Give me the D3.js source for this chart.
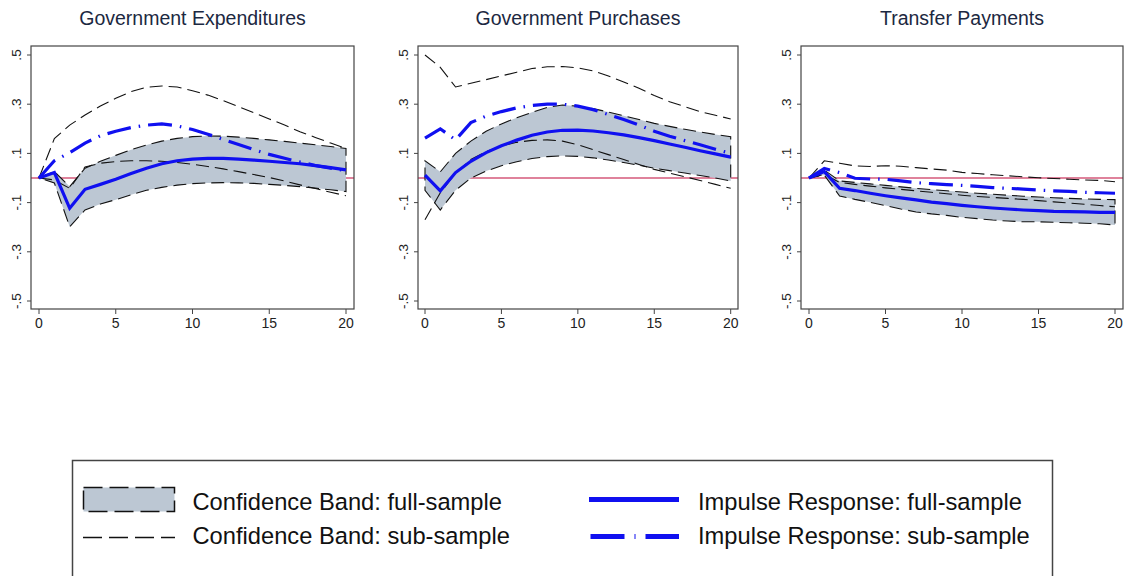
<!DOCTYPE html>
<html>
<head>
<meta charset="utf-8">
<script src="https://cdn.jsdelivr.net/npm/d3@7"></script>
<style>
  html, body { margin: 0; padding: 0; background: #fff; }
  svg { display: block; font-family: "Liberation Sans", Arial, Helvetica, sans-serif; }
</style>
</head>
<body>
<svg id="chart" width="1128" height="576"></svg>
<script>
// Horizons 0..20
const horizons = d3.range(0, 21);

const panelTitles = ["Government Expenditures", "Government Purchases", "Transfer Payments"];
const yTickValues = [-0.5, -0.3, -0.1, 0.1, 0.3, 0.5];
const yTickLabels = ["-.5", "-.3", "-.1", ".1", ".3", ".5"];
const xTickValues = [0, 5, 10, 15, 20];
const xTickLabels = ["0", "5", "10", "15", "20"];

// Government Expenditures
const geIrf    = [0, 0.022, -0.123, -0.046, -0.026, -0.005, 0.018, 0.040, 0.058, 0.070, 0.077, 0.080, 0.080, 0.077, 0.073, 0.068, 0.063, 0.058, 0.050, 0.042, 0.033];
const geLo     = [0, -0.020, -0.198, -0.130, -0.106, -0.088, -0.068, -0.050, -0.038, -0.029, -0.023, -0.020, -0.019, -0.020, -0.022, -0.026, -0.030, -0.035, -0.041, -0.048, -0.055];
const geHi     = [0, 0.026, -0.035, 0.040, 0.068, 0.092, 0.115, 0.134, 0.150, 0.161, 0.168, 0.171, 0.170, 0.166, 0.161, 0.155, 0.149, 0.142, 0.135, 0.128, 0.120];
const geSubIrf = [0, 0.070, 0.103, 0.142, 0.172, 0.190, 0.205, 0.215, 0.220, 0.212, 0.197, 0.178, 0.157, 0.136, 0.115, 0.096, 0.080, 0.065, 0.051, 0.040, 0.030];
const geSubLo  = [0, -0.008, -0.042, 0.045, 0.060, 0.067, 0.070, 0.070, 0.068, 0.063, 0.056, 0.047, 0.037, 0.026, 0.014, 0.002, -0.012, -0.028, -0.043, -0.058, -0.072];
const geSubHi  = [0, 0.160, 0.215, 0.256, 0.293, 0.324, 0.351, 0.369, 0.374, 0.370, 0.355, 0.337, 0.315, 0.290, 0.265, 0.240, 0.215, 0.188, 0.165, 0.142, 0.120];

// Government Purchases
const gpIrf    = [0.012, -0.052, 0.022, 0.068, 0.103, 0.131, 0.154, 0.174, 0.187, 0.194, 0.195, 0.191, 0.184, 0.175, 0.164, 0.152, 0.138, 0.125, 0.111, 0.098, 0.085];
const gpLo     = [-0.050, -0.130, -0.050, 0.000, 0.028, 0.050, 0.066, 0.079, 0.087, 0.090, 0.088, 0.082, 0.073, 0.063, 0.052, 0.040, 0.030, 0.020, 0.010, 0.000, -0.012];
const gpHi     = [0.070, 0.025, 0.100, 0.150, 0.190, 0.220, 0.245, 0.267, 0.287, 0.297, 0.292, 0.282, 0.268, 0.253, 0.238, 0.222, 0.210, 0.198, 0.187, 0.177, 0.168];
const gpSubIrf = [0.162, 0.200, 0.155, 0.225, 0.252, 0.270, 0.285, 0.295, 0.300, 0.300, 0.292, 0.278, 0.258, 0.238, 0.215, 0.190, 0.170, 0.152, 0.135, 0.117, 0.100];
const gpSubLo  = [-0.170, -0.060, 0.020, 0.075, 0.108, 0.130, 0.145, 0.153, 0.155, 0.150, 0.135, 0.115, 0.095, 0.075, 0.055, 0.035, 0.020, 0.005, -0.010, -0.026, -0.042];
const gpSubHi  = [0.500, 0.450, 0.370, 0.385, 0.400, 0.415, 0.430, 0.445, 0.452, 0.453, 0.448, 0.435, 0.415, 0.390, 0.365, 0.335, 0.310, 0.290, 0.270, 0.255, 0.240];

// Transfer Payments
const tpIrf    = [0, 0.026, -0.042, -0.051, -0.062, -0.072, -0.081, -0.089, -0.098, -0.104, -0.111, -0.117, -0.122, -0.126, -0.130, -0.133, -0.136, -0.137, -0.138, -0.140, -0.140];
const tpLo     = [0, 0.012, -0.073, -0.087, -0.099, -0.112, -0.126, -0.138, -0.146, -0.152, -0.160, -0.165, -0.171, -0.175, -0.178, -0.178, -0.180, -0.182, -0.184, -0.186, -0.191];
const tpHi     = [0, 0.032, -0.012, -0.018, -0.024, -0.030, -0.036, -0.042, -0.047, -0.052, -0.057, -0.062, -0.066, -0.070, -0.074, -0.077, -0.080, -0.083, -0.085, -0.087, -0.088];
const tpSubIrf = [0, 0.039, 0.022, -0.001, -0.004, -0.005, -0.012, -0.019, -0.023, -0.027, -0.030, -0.034, -0.039, -0.042, -0.045, -0.049, -0.052, -0.054, -0.058, -0.060, -0.062];
const tpSubLo  = [0, 0.015, -0.018, -0.026, -0.033, -0.040, -0.046, -0.052, -0.058, -0.064, -0.070, -0.075, -0.079, -0.083, -0.087, -0.092, -0.097, -0.102, -0.107, -0.112, -0.117];
const tpSubHi  = [0, 0.070, 0.060, 0.049, 0.047, 0.050, 0.048, 0.042, 0.037, 0.032, 0.023, 0.018, 0.013, 0.009, 0.005, 0.001, -0.002, -0.005, -0.008, -0.010, -0.015];

const legendLabels = [
  "Confidence Band: full-sample",
  "Confidence Band: sub-sample",
  "Impulse Response: full-sample",
  "Impulse Response: sub-sample"
];

const panelSeries = [
  { irf: geIrf, lo: geLo, hi: geHi, subIrf: geSubIrf, subLo: geSubLo, subHi: geSubHi },
  { irf: gpIrf, lo: gpLo, hi: gpHi, subIrf: gpSubIrf, subLo: gpSubLo, subHi: gpSubHi },
  { irf: tpIrf, lo: tpLo, hi: tpHi, subIrf: tpSubIrf, subLo: tpSubLo, subHi: tpSubHi }
];

// Panel geometry: frame box and the pixel range of horizons 0..20
const panelBoxes = [
  { left: 31,  right: 354,  x0: 39,  x1: 346 },
  { left: 418, right: 738,  x0: 425, x1: 730.7 },
  { left: 801, right: 1123, x0: 809, x1: 1115 }
];
const frameTop = 46, frameBottom = 309;
const yTopPx = 55, yBottomPx = 301;

const BLUE = "#1010f0";
const BAND_FILL = "#bcc7d3";
const ZERO_RED = "#d4587a";
const TITLE_COLOR = "#1c2841";
const DASH = "13,6";

const svg = d3.select("#chart");

panelSeries.forEach((s, i) => {
  const box = panelBoxes[i];
  const x = d3.scaleLinear().domain([0, 20]).range([box.x0, box.x1]);
  const y = d3.scaleLinear().domain([-0.5, 0.5]).range([yBottomPx, yTopPx]);
  const g = svg.append("g");

  // title
  g.append("text")
    .attr("x", (box.left + box.right) / 2)
    .attr("y", 25)
    .attr("text-anchor", "middle")
    .attr("font-size", 19.5)
    .attr("fill", TITLE_COLOR)
    .text(panelTitles[i]);

  // zero reference line
  g.append("line")
    .attr("x1", box.left).attr("x2", box.right)
    .attr("y1", y(0)).attr("y2", y(0))
    .attr("stroke", ZERO_RED).attr("stroke-width", 1.5);

  // full-sample confidence band
  const area = d3.area()
    .x((d, k) => x(horizons[k]))
    .y0((d, k) => y(s.lo[k]))
    .y1((d, k) => y(s.hi[k]));
  g.append("path")
    .attr("d", area(horizons))
    .attr("fill", BAND_FILL)
    .attr("stroke", "#111")
    .attr("stroke-width", 1.1)
    .attr("stroke-dasharray", DASH);

  const line = vals => d3.line()
    .x((d, k) => x(horizons[k]))
    .y((d, k) => y(vals[k]))(horizons);

  // sub-sample confidence band
  [s.subHi, s.subLo].forEach(vals => {
    g.append("path")
      .attr("d", line(vals))
      .attr("fill", "none")
      .attr("stroke", "#111")
      .attr("stroke-width", 1.1)
      .attr("stroke-dasharray", DASH);
  });

  // sub-sample impulse response
  g.append("path")
    .attr("d", line(s.subIrf))
    .attr("fill", "none")
    .attr("stroke", BLUE)
    .attr("stroke-width", 3.2)
    .attr("stroke-dasharray", "24,8,1.5,8");

  // full-sample impulse response
  g.append("path")
    .attr("d", line(s.irf))
    .attr("fill", "none")
    .attr("stroke", BLUE)
    .attr("stroke-width", 3.2)
    .attr("stroke-linejoin", "miter");

  // frame
  g.append("rect")
    .attr("x", box.left).attr("y", frameTop)
    .attr("width", box.right - box.left).attr("height", frameBottom - frameTop)
    .attr("fill", "none").attr("stroke", "#444").attr("stroke-width", 1.2);

  // y axis: ticks and rotated labels
  yTickValues.forEach((v, k) => {
    g.append("line")
      .attr("x1", box.left - 4).attr("x2", box.left)
      .attr("y1", y(v)).attr("y2", y(v))
      .attr("stroke", "#444").attr("stroke-width", 1);
    g.append("text")
      .attr("transform", `translate(${box.left - 10.5},${y(v)}) rotate(-90)`)
      .attr("text-anchor", "middle")
      .attr("font-size", 13.5)
      .attr("fill", "#222")
      .text(yTickLabels[k]);
  });

  // x axis: ticks and labels
  xTickValues.forEach((v, k) => {
    g.append("line")
      .attr("x1", x(v)).attr("x2", x(v))
      .attr("y1", frameBottom).attr("y2", frameBottom + 5)
      .attr("stroke", "#444").attr("stroke-width", 1);
    g.append("text")
      .attr("x", x(v)).attr("y", 328)
      .attr("text-anchor", "middle")
      .attr("font-size", 14)
      .attr("fill", "#222")
      .text(xTickLabels[k]);
  });
});

// legend
const lg = svg.append("g");
lg.append("rect")
  .attr("x", 72.5).attr("y", 460.5)
  .attr("width", 980).attr("height", 140)
  .attr("fill", "#fff").attr("stroke", "#444").attr("stroke-width", 1.5);

lg.append("rect")
  .attr("x", 83.5).attr("y", 487.5).attr("width", 91).attr("height", 24)
  .attr("fill", BAND_FILL).attr("stroke", "#111").attr("stroke-width", 1.5)
  .attr("stroke-dasharray", "19,7");
lg.append("line")
  .attr("x1", 83).attr("x2", 175).attr("y1", 537.5).attr("y2", 537.5)
  .attr("stroke", "#111").attr("stroke-width", 1.5)
  .attr("stroke-dasharray", "19,7");
lg.append("line")
  .attr("x1", 589).attr("x2", 679).attr("y1", 499.5).attr("y2", 499.5)
  .attr("stroke", BLUE).attr("stroke-width", 5);
lg.append("line")
  .attr("x1", 590.5).attr("x2", 679).attr("y1", 536.5).attr("y2", 536.5)
  .attr("stroke", BLUE).attr("stroke-width", 5)
  .attr("stroke-dasharray", "34,10,1,10");

const legendPos = [[192.5, 510], [192.5, 544], [698, 510], [698, 544]];
legendLabels.forEach((t, k) => {
  lg.append("text")
    .attr("x", legendPos[k][0]).attr("y", legendPos[k][1])
    .attr("font-size", 23.7)
    .attr("fill", "#111")
    .text(t);
});
</script>
</body>
</html>
